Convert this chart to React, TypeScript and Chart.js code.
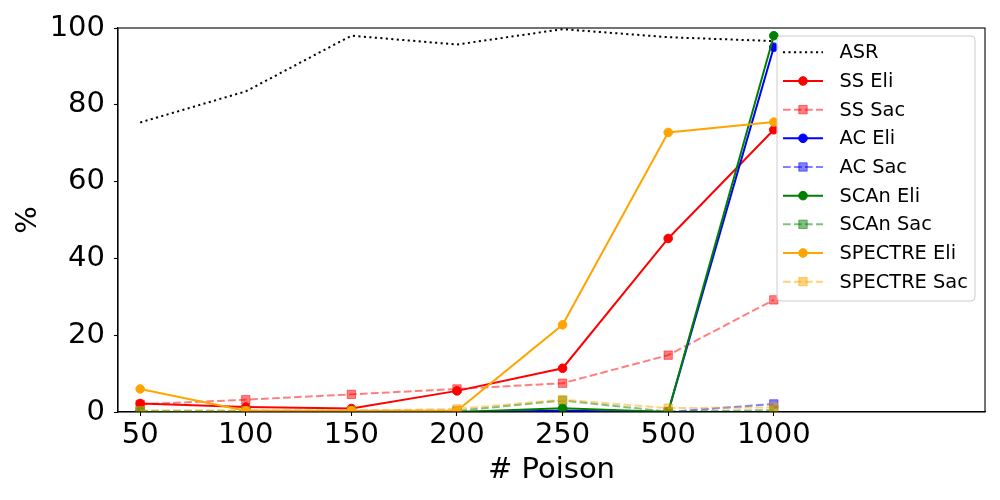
import React, { useEffect, useRef } from 'react';
import { Chart, registerables } from 'chart.js';

Chart.register(...registerables);

const categories = ['50', '100', '150', '200', '250', '500', '1000'];
const asr = [75.4, 83.5, 98.0, 95.7, 99.7, 97.6, 96.6];
const ssEli = [2.2, 1.3, 0.9, 5.5, 11.4, 45.2, 73.5];
const ssSac = [2.0, 3.2, 4.6, 6.0, 7.5, 14.8, 29.2];
const acEli = [0.0, 0.0, 0.0, 0.0, 0.3, 0.0, 95.0];
const acSac = [0.0, 0.0, 0.0, 0.0, 0.1, 0.0, 2.1];
const scanEli = [0.0, 0.0, 0.0, 0.0, 1.0, 0.0, 98.0];
const scanSac = [0.3, 0.3, 0.3, 0.3, 3.0, 0.1, 0.5];
const spectreEli = [6.0, 0.3, 0.3, 0.3, 22.7, 72.8, 75.5];
const spectreSac = [0.3, 0.3, 0.3, 0.8, 3.2, 1.0, 1.2];
const yTicks = [0, 20, 40, 60, 80, 100];

const FONT = "'DejaVu Sans', sans-serif";

type Series = {
  label: string;
  values: number[];
  rgb: string;
  kind: 'dotted' | 'eli' | 'sac';
};

const series: Series[] = [
  { label: 'ASR', values: asr, rgb: '0,0,0', kind: 'dotted' },
  { label: 'SS Eli', values: ssEli, rgb: '255,0,0', kind: 'eli' },
  { label: 'SS Sac', values: ssSac, rgb: '255,0,0', kind: 'sac' },
  { label: 'AC Eli', values: acEli, rgb: '0,0,255', kind: 'eli' },
  { label: 'AC Sac', values: acSac, rgb: '0,0,255', kind: 'sac' },
  { label: 'SCAn Eli', values: scanEli, rgb: '0,128,0', kind: 'eli' },
  { label: 'SCAn Sac', values: scanSac, rgb: '0,128,0', kind: 'sac' },
  { label: 'SPECTRE Eli', values: spectreEli, rgb: '255,165,0', kind: 'eli' },
  { label: 'SPECTRE Sac', values: spectreSac, rgb: '255,165,0', kind: 'sac' },
];

const DASH = [7.7, 3.3];
const DOT = [2.1, 3.4];

function colorOf(s: Series) {
  return s.kind === 'sac' ? `rgba(${s.rgb},0.5)` : `rgb(${s.rgb})`;
}

const framePlugin = {
  id: 'frameAndLegend',
  afterDatasetsDraw(chart: any) {
    const { ctx, chartArea: a } = chart;
    ctx.save();
    ctx.strokeStyle = '#000';
    ctx.lineWidth = 1.1;
    ctx.strokeRect(a.left, a.top, a.right - a.left, a.bottom - a.top);
    ctx.restore();
  },
  afterDraw(chart: any) {
    const { ctx, chartArea: a } = chart;
    const w = 198;
    const h = 265;
    const x0 = a.right - 10 - w;
    const y0 = a.top + 8;
    ctx.save();
    ctx.beginPath();
    if (ctx.roundRect) ctx.roundRect(x0, y0, w, h, 4);
    else ctx.rect(x0, y0, w, h);
    ctx.fillStyle = 'rgba(255,255,255,0.8)';
    ctx.fill();
    ctx.strokeStyle = '#cccccc';
    ctx.lineWidth = 1;
    ctx.stroke();
    series.forEach((s, i) => {
      const cy = y0 + 16.3 + i * 28.67;
      const col = colorOf(s);
      ctx.beginPath();
      ctx.setLineDash(s.kind === 'dotted' ? DOT : s.kind === 'sac' ? DASH : []);
      ctx.strokeStyle = col;
      ctx.lineWidth = 2;
      ctx.moveTo(x0 + 6, cy);
      ctx.lineTo(x0 + 46, cy);
      ctx.stroke();
      ctx.setLineDash([]);
      const mx = x0 + 26;
      if (s.kind === 'eli') {
        ctx.beginPath();
        ctx.arc(mx, cy, 4.3, 0, Math.PI * 2);
        ctx.fillStyle = col;
        ctx.fill();
        ctx.lineWidth = 1;
        ctx.strokeStyle = col;
        ctx.stroke();
      } else if (s.kind === 'sac') {
        ctx.beginPath();
        ctx.rect(mx - 4.2, cy - 4.2, 8.4, 8.4);
        ctx.fillStyle = col;
        ctx.fill();
        ctx.lineWidth = 1;
        ctx.strokeStyle = col;
        ctx.stroke();
      }
      ctx.fillStyle = '#000';
      ctx.font = `19.4px ${FONT}`;
      ctx.textBaseline = 'middle';
      ctx.textAlign = 'left';
      ctx.fillText(s.label, x0 + 62.5, cy + 1);
    });
    ctx.restore();
  },
};

export default function App() {
  const ref = useRef<HTMLCanvasElement | null>(null);

  useEffect(() => {
    document.body.style.margin = '0';
    const canvas = ref.current;
    if (!canvas) return;
    const datasets = series.map((s, i) => {
      const col = colorOf(s);
      return {
        label: s.label,
        data: s.values.map((v, j) => ({ x: j, y: v })),
        borderColor: col,
        backgroundColor: col,
        borderWidth: 2,
        borderDash: s.kind === 'dotted' ? DOT : s.kind === 'sac' ? DASH : [],
        pointRadius: s.kind === 'dotted' ? 0 : s.kind === 'sac' ? 5.9 : 4.3,
        pointStyle: s.kind === 'sac' ? 'rect' : 'circle',
        pointBackgroundColor: col,
        pointBorderColor: col,
        pointBorderWidth: 1,
        tension: 0,
        fill: false,
        order: series.length - i,
      };
    });
    const chart = new Chart(canvas, {
      type: 'line',
      data: { datasets },
      plugins: [framePlugin],
      options: {
        animation: false,
        responsive: false,
        devicePixelRatio: 1,
        layout: { padding: { top: 28, right: 15, left: 0, bottom: 0 } },
        plugins: { legend: { display: false }, tooltip: { enabled: false } },
        scales: {
          x: {
            type: 'linear',
            min: -0.21,
            max: 8.0,
            afterBuildTicks: (scale: any) => {
              scale.ticks = categories.map((_, i) => ({ value: i }));
            },
            afterFit: (scale: any) => {
              scale.height = 88;
            },
            ticks: {
              autoSkip: false,
              maxRotation: 0,
              padding: 2,
              color: '#000',
              font: { family: FONT, size: 29 },
              callback: (v: any) => categories[Math.round(Number(v))] ?? '',
            },
            grid: {
              display: true,
              drawOnChartArea: false,
              drawTicks: true,
              tickLength: 4,
              color: '#000',
              tickWidth: 1.1,
            },
            border: { display: true, color: '#000', width: 1.1 },
            title: {
              display: true,
              text: '# Poison',
              color: '#000',
              font: { family: FONT, size: 29 },
              padding: { top: 0, bottom: 12 },
            },
          },
          y: {
            type: 'linear',
            min: 0,
            max: 100,
            afterBuildTicks: (scale: any) => {
              scale.ticks = yTicks.map((v) => ({ value: v }));
            },
            afterFit: (scale: any) => {
              scale.width = 118;
            },
            ticks: {
              padding: 9,
              color: '#000',
              font: { family: FONT, size: 29 },
            },
            grid: {
              display: true,
              drawOnChartArea: false,
              drawTicks: true,
              tickLength: 4,
              color: '#000',
              tickWidth: 1.1,
            },
            border: { display: true, color: '#000', width: 1.1 },
            title: {
              display: true,
              text: '%',
              color: '#000',
              font: { family: FONT, size: 29 },
              padding: { top: 11, bottom: 0 },
            },
          },
        },
      },
    } as any);
    return () => chart.destroy();
  }, []);

  return (
    <div style={{ width: 1000, height: 500 }}>
      <canvas ref={ref} width={1000} height={500} style={{ display: 'block' }} />
    </div>
  );
}
